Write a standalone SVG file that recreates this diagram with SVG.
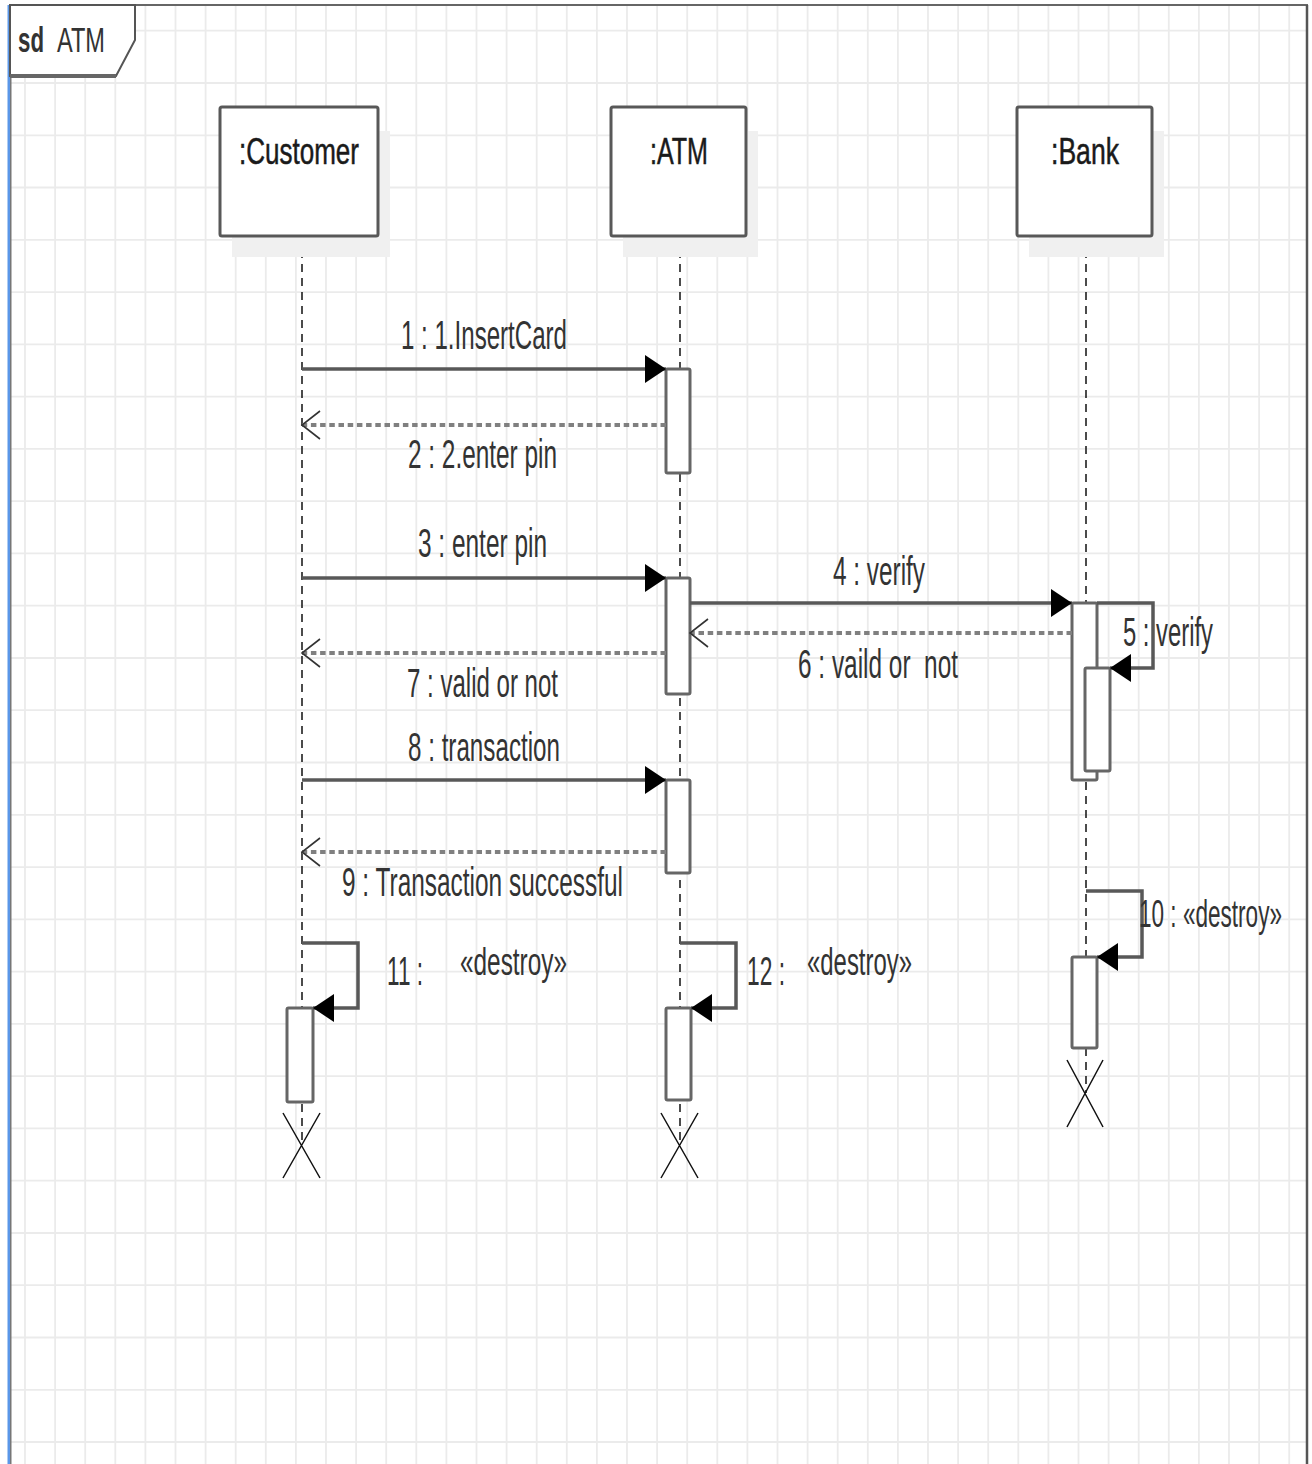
<svg xmlns="http://www.w3.org/2000/svg" width="1312" height="1464" viewBox="0 0 1312 1464">
<defs>
<style>
.grid{stroke:#ebebeb;stroke-width:1.8;fill:none}
.head{fill:#fff;stroke:#585858;stroke-width:3}
.shadow{fill:#f0f0f0;stroke:none}
.life{stroke:#111;stroke-width:1.5;stroke-dasharray:8 6;fill:none}
.act{fill:#fff;stroke:#666;stroke-width:3}
.msg{stroke:#585858;stroke-width:3.5;fill:none}
.ret{stroke:#808080;stroke-width:4;stroke-dasharray:5.5 3.7;fill:none}
.x{stroke:#111;stroke-width:1.5;fill:none}
text{font-family:"Liberation Sans",Arial,sans-serif;fill:#333;white-space:pre}
.ht{font-size:36px;fill:#1a1a1a;stroke:#1a1a1a;stroke-width:0.5}
.mt{font-size:40px}
.dt{font-size:38px}
</style>
<marker id="tri" markerUnits="userSpaceOnUse" markerWidth="22" markerHeight="30" viewBox="0 0 22 30" refX="21" refY="14" orient="auto">
<path d="M0,0 L21,14 L0,28 z" fill="#000"/>
</marker>
<marker id="open" markerUnits="userSpaceOnUse" markerWidth="22" markerHeight="32" viewBox="-2 -2 22 32" refX="18" refY="14" orient="auto">
<path d="M0,0 L18,14 L0,28" fill="none" stroke="#333" stroke-width="1.6"/>
</marker>
</defs>
<rect width="1312" height="1464" fill="#fff"/>
<g id="grid">
<path class="grid" d="M25,5V1464M55.1,5V1464M85.2,5V1464M115.3,5V1464M145.4,5V1464M175.5,5V1464M205.6,5V1464M235.7,5V1464M265.8,5V1464M295.9,5V1464M326,5V1464M356.1,5V1464M386.2,5V1464M416.3,5V1464M446.4,5V1464M476.5,5V1464M506.6,5V1464M536.7,5V1464M566.8,5V1464M596.9,5V1464M627,5V1464M657.1,5V1464M687.2,5V1464M717.3,5V1464M747.4,5V1464M777.5,5V1464M807.6,5V1464M837.7,5V1464M867.8,5V1464M897.9,5V1464M928,5V1464M958.1,5V1464M988.2,5V1464M1018.3,5V1464M1048.4,5V1464M1078.5,5V1464M1108.6,5V1464M1138.7,5V1464M1168.8,5V1464M1198.9,5V1464M1229,5V1464M1259.1,5V1464M1289.2,5V1464"/>
<path class="grid" d="M10,30.7H1307M10,83H1307M10,135.3H1307M10,187.5H1307M10,239.8H1307M10,292.1H1307M10,344.4H1307M10,396.6H1307M10,448.9H1307M10,501.2H1307M10,553.4H1307M10,605.7H1307M10,658H1307M10,710.2H1307M10,762.5H1307M10,814.8H1307M10,867.1H1307M10,919.3H1307M10,971.6H1307M10,1023.9H1307M10,1076.2H1307M10,1128.4H1307M10,1180.7H1307M10,1233H1307M10,1285.2H1307M10,1337.5H1307M10,1389.8H1307M10,1442H1307"/>
</g>
<g id="frame">
<line x1="9" y1="5" x2="1308" y2="5" stroke="#666" stroke-width="2"/>
<line x1="1307" y1="5" x2="1307" y2="1464" stroke="#555" stroke-width="2.5"/>
<rect x="7.5" y="5" width="2.5" height="1459" fill="#5b97e8"/>
<rect x="10" y="5" width="1.5" height="1459" fill="#777"/>
<path d="M10,5 H135 V40 L116,76 H10 Z" fill="#fff" stroke="#555" stroke-width="2"/>
<line x1="10" y1="76" x2="116" y2="76" stroke="#666" stroke-width="4"/>
<text x="18" y="52" style="font-size:35px;font-weight:bold" textLength="26" lengthAdjust="spacingAndGlyphs">sd</text>
<text x="57" y="52" style="font-size:35px" textLength="48" lengthAdjust="spacingAndGlyphs">ATM</text>
</g>
<g id="lifelines">
<line class="life" x1="302" y1="236" x2="302" y2="1145"/>
<line class="life" x1="680" y1="236" x2="680" y2="1145"/>
<line class="life" x1="1086" y1="236" x2="1086" y2="1093"/>
</g>
<g id="customer">
<rect class="shadow" x="232" y="131" width="158" height="126"/>
<rect class="head" x="220" y="107" width="158" height="129" rx="2"/>
<text class="ht" x="239" y="164" textLength="120" lengthAdjust="spacingAndGlyphs">:Customer</text>
</g>
<g id="atm">
<rect class="shadow" x="623" y="131" width="135" height="126"/>
<rect class="head" x="611" y="107" width="135" height="129" rx="2"/>
<text class="ht" x="650" y="164" textLength="58" lengthAdjust="spacingAndGlyphs">:ATM</text>
</g>
<g id="bank">
<rect class="shadow" x="1029" y="131" width="135" height="126"/>
<rect class="head" x="1017" y="107" width="135" height="129" rx="2"/>
<text class="ht" x="1051" y="164" textLength="68" lengthAdjust="spacingAndGlyphs">:Bank</text>
</g>
<g id="activations">
<rect class="act" x="666" y="369" width="24" height="104" rx="1.5"/>
<rect class="act" x="666" y="578" width="24" height="116" rx="1.5"/>
<rect class="act" x="666" y="780" width="24" height="93" rx="1.5"/>
<rect class="act" x="1072" y="603" width="25" height="177" rx="1.5"/>
<rect class="act" x="1085" y="668" width="25" height="103" rx="1.5"/>
<rect class="act" x="287" y="1008" width="26" height="94" rx="1.5"/>
<rect class="act" x="666" y="1008" width="25" height="92" rx="1.5"/>
<rect class="act" x="1072" y="957" width="25" height="91" rx="1.5"/>
</g>
<g id="connectors">
<line class="msg" x1="302" y1="369" x2="666" y2="369" marker-end="url(#tri)"/>
<line class="ret" x1="666" y1="425" x2="302" y2="425" marker-end="url(#open)"/>
<line class="msg" x1="302" y1="578" x2="666" y2="578" marker-end="url(#tri)"/>
<line class="msg" x1="690" y1="603" x2="1072" y2="603" marker-end="url(#tri)"/>
<path class="msg" d="M1097,603 H1153 V668 H1110" marker-end="url(#tri)"/>
<line class="ret" x1="1072" y1="633" x2="690" y2="633" marker-end="url(#open)"/>
<line class="ret" x1="666" y1="653" x2="302" y2="653" marker-end="url(#open)"/>
<line class="msg" x1="302" y1="780" x2="666" y2="780" marker-end="url(#tri)"/>
<line class="ret" x1="666" y1="852" x2="302" y2="852" marker-end="url(#open)"/>
<path class="msg" d="M1086,891 H1142 V957 H1097" marker-end="url(#tri)"/>
<path class="msg" d="M302,943 H358 V1008 H313" marker-end="url(#tri)"/>
<path class="msg" d="M680,943 H736 V1008 H691" marker-end="url(#tri)"/>
<path class="x" d="M283,1113 L320,1178 M320,1113 L283,1178"/>
<path class="x" d="M661,1113 L698,1178 M698,1113 L661,1178"/>
<path class="x" d="M1067,1060 L1103,1127 M1103,1060 L1067,1127"/>
</g>
<g id="labels">
<text class="mt" x="401" y="349" textLength="166" lengthAdjust="spacingAndGlyphs">1 : 1.InsertCard</text>
<text class="mt" x="408" y="468" textLength="149" lengthAdjust="spacingAndGlyphs">2 : 2.enter pin</text>
<text class="mt" x="418" y="557" textLength="129" lengthAdjust="spacingAndGlyphs">3 : enter pin</text>
<text class="mt" x="833" y="585" textLength="92" lengthAdjust="spacingAndGlyphs">4 : verify</text>
<text class="mt" x="1123" y="646" textLength="90" lengthAdjust="spacingAndGlyphs">5 : verify</text>
<text class="mt" x="798" y="678" textLength="160" lengthAdjust="spacingAndGlyphs">6 : vaild or  not</text>
<text class="mt" x="407" y="697" textLength="151" lengthAdjust="spacingAndGlyphs">7 : valid or not</text>
<text class="mt" x="408" y="761" textLength="152" lengthAdjust="spacingAndGlyphs">8 : transaction</text>
<text class="mt" x="342" y="896" textLength="281" lengthAdjust="spacingAndGlyphs">9 : Transaction successful</text>
<text class="dt" x="1139" y="927" textLength="143" lengthAdjust="spacingAndGlyphs">10 : «destroy»</text>
<text class="mt" x="387" y="985" textLength="36" lengthAdjust="spacingAndGlyphs">11 :</text>
<text class="dt" x="460" y="975" textLength="107" lengthAdjust="spacingAndGlyphs">«destroy»</text>
<text class="mt" x="747" y="985" textLength="38" lengthAdjust="spacingAndGlyphs">12 :</text>
<text class="dt" x="807" y="975" textLength="105" lengthAdjust="spacingAndGlyphs">«destroy»</text>
</g>
</svg>
